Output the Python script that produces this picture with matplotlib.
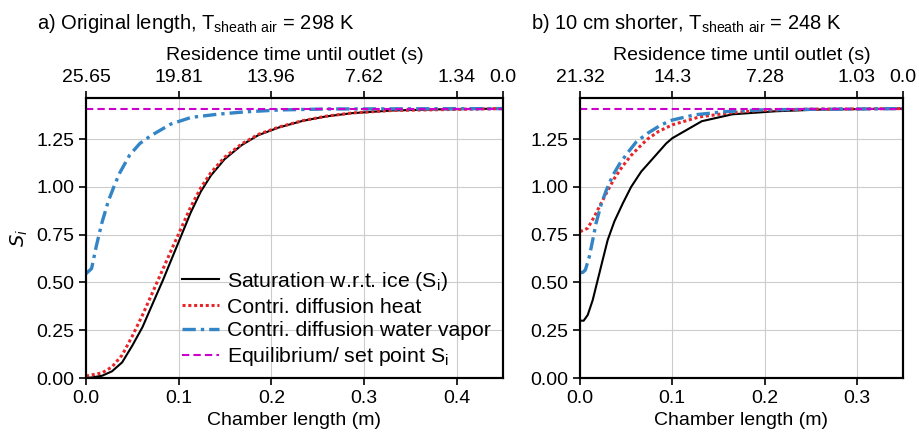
#graficos de saturacion respecto al hielo
import matplotlib.pyplot as plt

plt.rcParams['font.family'] = ['Liberation Sans', 'DejaVu Sans']
plt.rcParams['font.size'] = 14

##datos panel a) longitud original
xa_si = [0, 0.0065, 0.0174, 0.028, 0.039, 0.05, 0.061, 0.072, 0.083, 0.093, 0.1019, 0.1129,
         0.1238, 0.1348, 0.1495, 0.168, 0.186, 0.208, 0.234, 0.259, 0.287, 0.33, 0.38, 0.45]
ya_si = [0, 0.003, 0.012, 0.035, 0.082, 0.17, 0.267, 0.39, 0.512, 0.63, 0.735, 0.865,
         0.975, 1.06, 1.145, 1.219, 1.271, 1.311, 1.346, 1.369, 1.386, 1.400, 1.406, 1.41]
xa_heat = [0, 0.0174, 0.028, 0.039, 0.05, 0.061, 0.072, 0.083, 0.093, 0.1019, 0.1129, 0.1238,
           0.1348, 0.1495, 0.168, 0.186, 0.208, 0.234, 0.259, 0.287, 0.33, 0.45]
ya_heat = [0.01, 0.027, 0.058, 0.12, 0.22, 0.33, 0.45, 0.57, 0.68, 0.775, 0.895, 0.995,
           1.075, 1.155, 1.225, 1.275, 1.313, 1.347, 1.37, 1.387, 1.40, 1.41]
xa_vap = [0, 0.006, 0.011, 0.017, 0.024, 0.03, 0.036, 0.047, 0.058, 0.0696, 0.0915, 0.1135,
          0.143, 0.172, 0.21, 0.26, 0.45]
ya_vap = [0.546, 0.573, 0.688, 0.81, 0.925, 1.0, 1.07, 1.166, 1.227, 1.267, 1.329, 1.364,
          1.381, 1.393, 1.403, 1.408, 1.41]
xa_eq = [0, 0.45]
ya_eq = [1.41, 1.41]
ticks_a = [0, 0.1, 0.2, 0.3, 0.4, 0.45]
time_a = ["25.65", "19.81", "13.96", "7.62", "1.34", "0.0"]

##datos panel b) 10 cm mas corto
xb_si = [0, 0.004, 0.0084, 0.0138, 0.0192, 0.0246, 0.030, 0.0373, 0.0464, 0.0554, 0.0663,
         0.079, 0.0935, 0.1, 0.132, 0.165, 0.212, 0.26, 0.35]
yb_si = [0.30, 0.30, 0.33, 0.408, 0.513, 0.618, 0.722, 0.82, 0.914, 1.0, 1.08,
         1.149, 1.228, 1.255, 1.344, 1.38, 1.396, 1.405, 1.41]
xb_heat = [0, 0.0084, 0.0156, 0.0228, 0.030, 0.0373, 0.0464, 0.0554, 0.0645, 0.073, 0.085,
           0.1, 0.129, 0.161, 0.194, 0.25, 0.35]
yb_heat = [0.766, 0.784, 0.845, 0.914, 0.98, 1.045, 1.11, 1.165, 1.21, 1.25, 1.29,
           1.325, 1.366, 1.387, 1.40, 1.407, 1.41]
xb_vap = [0, 0.003, 0.0058, 0.0101, 0.0138, 0.0174, 0.0228, 0.0283, 0.0355, 0.0428, 0.0518,
          0.0609, 0.073, 0.088, 0.1, 0.125, 0.16, 0.2, 0.35]
yb_vap = [0.551, 0.553, 0.565, 0.635, 0.722, 0.81, 0.906, 0.98, 1.06, 1.12, 1.18,
          1.235, 1.28, 1.325, 1.35, 1.378, 1.395, 1.404, 1.41]
xb_eq = [0, 0.35]
yb_eq = [1.41, 1.41]
ticks_b = [0, 0.1, 0.2, 0.3, 0.35]
time_b = ["21.32", "14.3", "7.28", "1.03", "0.0"]

yticks = [0, 0.25, 0.5, 0.75, 1.0, 1.25]

fig = plt.figure(figsize=(9.19, 4.34), dpi=100)
ax1 = fig.add_axes([0.0936, 0.129, 0.4537, 0.645])
ax2 = fig.add_axes([0.6311, 0.129, 0.3515, 0.645])

def panel(ax, xs, ys, xh, yh, xv, yv, xe, ye, xmax, ticks, times):
    ax.plot(xs, ys, color="black", lw=1.5, label="Saturation w.r.t. ice (S$_\\mathregular{i}$)")
    ax.plot(xh, yh, color="#e8262a", lw=2.2, linestyle=(0, (1, 0.9)), label="Contri. diffusion heat")
    ax.plot(xv, yv, color="#3385c6", lw=2.4, linestyle=(0, (4, 1.5, 1, 1.5)),
            label="Contri. diffusion water vapor")
    ax.plot(xe, ye, color="#cc00cc", lw=1.5, linestyle=(0, (3.5, 2)),
            label="Equilibrium/ set point S$_\\mathregular{i}$")
    ax.set_xlim(0, xmax)
    ax.set_ylim(0, 1.465)
    ax.set_xticks([t for t in ticks if t < xmax])
    ax.set_yticks(yticks)
    ax.set_yticklabels(["%.2f" % v for v in yticks])
    ax.set_xlabel("Chamber length (m)")
    ax.grid(True, color="#cccccc", lw=0.8)
    for s in ax.spines.values():
        s.set_linewidth(1.5)
    ax.tick_params(width=1.2, length=5)
    # eje superior: tiempo de residencia
    top = ax.twiny()
    top.set_xlim(0, xmax)
    top.set_xticks(ticks)
    top.set_xticklabels(times)
    top.set_xlabel("Residence time until outlet (s)", labelpad=7)
    top.tick_params(width=1.2, length=5)
    for s in top.spines.values():
        s.set_linewidth(1.5)

panel(ax1, xa_si, ya_si, xa_heat, ya_heat, xa_vap, ya_vap, xa_eq, ya_eq, 0.45, ticks_a, time_a)
panel(ax2, xb_si, yb_si, xb_heat, yb_heat, xb_vap, yb_vap, xb_eq, yb_eq, 0.35, ticks_b, time_b)

ax1.set_ylabel("$S_i$")
ax1.yaxis.set_label_coords(-0.135, 0.5)
ax1.legend(loc="center left", bbox_to_anchor=(0.205, 0.211), frameon=False, borderpad=0,
           handlelength=1.75, handletextpad=0.35, labelspacing=0.22, fontsize=15.3)

fig.text(0.040, 0.947, "a) Original length, T$_\\mathregular{sheath\\ air}$ = 298 K", va="center", fontsize=14.5)
fig.text(0.5775, 0.947, "b) 10 cm shorter, T$_\\mathregular{sheath\\ air}$ = 248 K", va="center", fontsize=14.5)

plt.savefig("out.png", dpi=100)
